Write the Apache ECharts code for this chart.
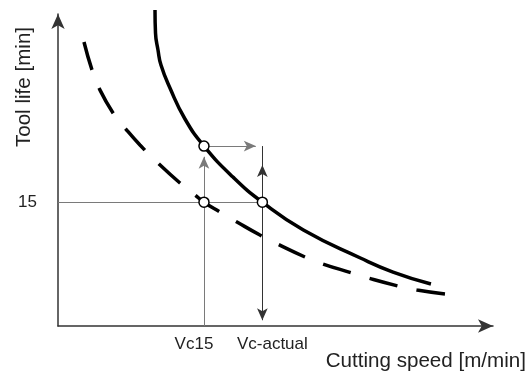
<!DOCTYPE html>
<html><head><meta charset="utf-8">
<script src="https://cdn.jsdelivr.net/npm/echarts@6/dist/echarts.min.js"></script>
<style>html,body{margin:0;padding:0;background:#fff}#c{width:531px;height:373px}</style>
</head><body><div id="c"></div>
<script>
// Solid curve (tool life vs cutting speed, actual conditions)
const solidSpeed = [132.9, 133.6, 137.0, 141.1, 153.4, 174.0, 200, 239.7, 280, 336.2, 414.3, 459.0, 511.0];
const solidLife  = [38.28, 35.49, 33.44, 31.62, 28.83, 25.08, 21.8, 18.05, 15, 11.63, 8.24, 6.54, 5.09];
// Dashed curve (reference conditions)
const dashSpeed = [35.6, 46.6, 56.2, 75.4, 91.8, 112.3, 137.0, 167.1, 187.7, 200, 221.9, 245.2, 276.7, 301.4, 338.4, 363.1, 402.8, 424.7, 465.8, 491.8, 530.2];
const dashLife  = [34.41, 31.02, 28.83, 25.81, 23.99, 21.93, 19.75, 17.33, 15.87, 15, 13.81, 12.60, 11.02, 9.90, 8.36, 7.51, 6.42, 5.82, 4.85, 4.36, 3.88];
// Reference values
const vc15 = 200, vcActual = 280, targetLife = 15, lifeAtVc15 = 21.8;
const xTickValues = [vc15, vcActual];
const xTickLabels = ['Vc15', 'Vc-actual'];
const yTickValues = [targetLife];
const xName = 'Cutting speed [m/min]';
const yName = 'Tool life [min]';

const FONT = 'Liberation Sans, Arial, sans-serif';
const zip = (a, b) => a.map((v, i) => [v, b[i]]);
const guide = '#7a7a7a', dark = '#333';
const arrowSz = [8, 12];

const chart = echarts.init(document.getElementById('c'), null, {renderer: 'canvas'});
chart.setOption({
  animation: false,
  backgroundColor: '#fff',
  grid: {left: 58, right: 38, top: 14, bottom: 47, containLabel: false, outerBoundsMode: 'none'},
  xAxis: {
    type: 'value', min: 0, max: 596,
    splitLine: {show: false}, axisTick: {show: false},
    axisLine: {show: true, lineStyle: {color: dark, width: 1.5}, symbol: ['none', 'arrow'], symbolSize: [10, 15]},
    axisLabel: {
      customValues: xTickValues, margin: 10, fontSize: 17, fontFamily: FONT, color: '#222',
      formatter: v => v === vc15 ? '{a|' + xTickLabels[0] + '}' : '{b|' + xTickLabels[1] + '}',
      rich: {
        a: {fontSize: 17, fontFamily: FONT, color: '#222', padding: [0, 20, 0, 0]},
        b: {fontSize: 17, fontFamily: FONT, color: '#222', padding: [0, 0, 0, 20]}
      }
    }
  },
  yAxis: {
    type: 'value', min: 0, max: 37.8,
    splitLine: {show: false}, axisTick: {show: false},
    axisLine: {show: true, lineStyle: {color: dark, width: 1.5}, symbol: ['none', 'arrow'], symbolSize: [10, 15]},
    axisLabel: {customValues: yTickValues, margin: 21, fontSize: 17, fontFamily: FONT, color: '#222'}
  },
  graphic: [
    {type: 'text', x: 526, y: 361, style: {text: xName, align: 'right', verticalAlign: 'middle', font: '20.6px ' + FONT, fill: '#222'}},
    {type: 'text', x: 24, y: 87, rotation: Math.PI / 2, style: {text: yName, align: 'center', verticalAlign: 'middle', font: '20.6px ' + FONT, fill: '#222'}}
  ],
  series: [
    {
      type: 'line', data: zip(dashSpeed, dashLife), smooth: 0.5, showSymbol: false, clip: false, z: 3,
      lineStyle: {color: '#000', width: 3.5, type: [29, 19.5], cap: 'butt'},
      markLine: {
        silent: true, animation: false, symbol: ['none', 'none'], label: {show: false}, z: 1,
        emphasis: {disabled: true},
        data: [
          [{coord: [0, targetLife], lineStyle: {color: guide, width: 1, type: 'solid'}}, {coord: [vcActual, targetLife]}],
          [{coord: [vc15, 0], lineStyle: {color: guide, width: 1, type: 'solid'}}, {coord: [vc15, lifeAtVc15 - 1.3], symbol: 'arrow', symbolSize: arrowSz}],
          [{coord: [vc15, lifeAtVc15], lineStyle: {color: guide, width: 1, type: 'solid'}}, {coord: [vcActual - 9, lifeAtVc15], symbol: 'arrow', symbolSize: arrowSz}],
          [{coord: [vcActual, lifeAtVc15], lineStyle: {color: dark, width: 1, type: 'solid'}}, {coord: [vcActual, targetLife]}],
          [{coord: [vcActual, targetLife], lineStyle: {color: dark, width: 1, type: 'solid'}}, {coord: [vcActual, lifeAtVc15 - 2.3], symbol: 'arrow', symbolSize: arrowSz}],
          [{coord: [vcActual, targetLife], lineStyle: {color: dark, width: 1, type: 'solid'}}, {coord: [vcActual, 0.7], symbol: 'arrow', symbolSize: arrowSz}]
        ]
      }
    },
    {
      type: 'line', data: zip(solidSpeed, solidLife), smooth: 0.5, showSymbol: false, clip: false, z: 4,
      lineStyle: {color: '#000', width: 3.5}
    },
    {
      type: 'scatter', z: 10, symbol: 'circle', symbolSize: 10,
      data: [[vc15, lifeAtVc15], [vc15, targetLife], [vcActual, targetLife]],
      itemStyle: {color: '#fff', opacity: 1, borderColor: '#000', borderWidth: 1.5}
    }
  ]
});
</script></body></html>
